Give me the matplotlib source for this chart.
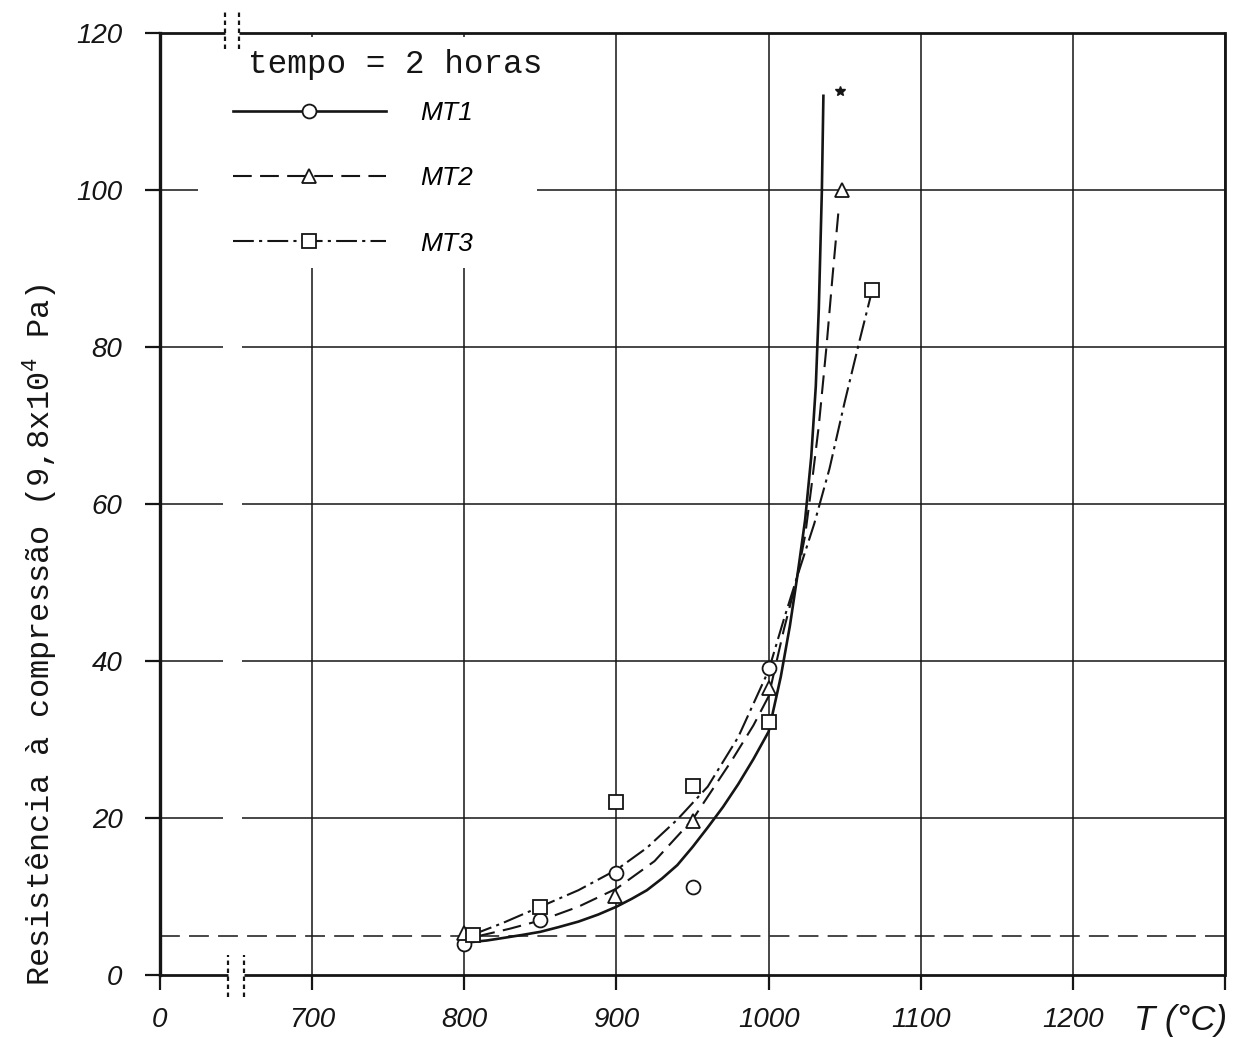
"""
Compressive strength vs. firing temperature (tempo = 2 horas) for MT1, MT2
and MT3, redrawn from a scanned figure. Broken x axis: the "0" tick sits
where 600 would be.
"""
import matplotlib
matplotlib.use("Agg")
import matplotlib.pyplot as plt
from matplotlib.font_manager import FontProperties
from matplotlib.lines import Line2D
from matplotlib.patches import Rectangle

plt.rcParams["font.family"] = ["Liberation Sans", "DejaVu Sans"]
plt.rcParams["mathtext.fontset"] = "custom"
plt.rcParams["mathtext.rm"] = "Liberation Mono"

INK = "#151515"

# measured points
T_MT1 = [800, 850, 900, 950, 1000]
R_MT1 = [4.0, 7.0, 13.0, 11.2, 39.1]
T_MT2 = [800, 899, 950, 1000, 1048]
R_MT2 = [5.3, 10.0, 19.6, 36.5, 100.0]
T_MT3 = [806, 850, 900, 950, 1000, 1068]
R_MT3 = [5.1, 8.7, 22.0, 24.1, 32.2, 87.2]
STAR_T = [1047]
STAR_R = [112.6]

# hand-drawn fitted curves
CURVE1_T = [805, 815, 825, 838, 850, 862, 875, 888, 900, 910, 920, 930, 940,
            950, 960, 970, 980, 990, 1000, 1008, 1014, 1019, 1024, 1028, 1031,
            1033, 1035, 1036]
CURVE1_R = [4.2, 4.4, 4.7, 5.1, 5.5, 6.1, 6.8, 7.7, 8.7, 9.7, 10.8, 12.3, 14.0,
            16.3, 18.8, 21.4, 24.3, 27.5, 31.0, 38.0, 44.5, 51.0, 58.0, 66.0,
            75.0, 85.0, 100.0, 112.0]
CURVE2_T = [808, 830, 851, 875, 900, 925, 950, 976, 990, 1000, 1010, 1018,
            1024, 1028, 1033, 1038, 1042, 1046]
CURVE2_R = [4.9, 5.9, 7.0, 8.7, 11.0, 14.5, 19.8, 27.4, 31.8, 35.5, 44.0, 50.0,
            56.0, 62.0, 70.0, 80.0, 89.0, 97.5]
CURVE3_T = [805, 825, 850, 875, 900, 920, 940, 960, 980, 1000, 1010, 1020,
            1030, 1040, 1050, 1060, 1068]
CURVE3_R = [5.1, 6.6, 8.7, 10.8, 13.4, 16.2, 19.8, 24.0, 30.3, 38.8, 45.3, 51.5,
            57.5, 64.5, 73.0, 81.0, 87.2]

LIMIT_R = 5.0
GRID_R = [20, 40, 60, 80, 100]
X_TICKS = [600, 700, 800, 900, 1000, 1100, 1200, 1300]
X_LABELS = ["0", "700", "800", "900", "1000", "1100", "1200", ""]
Y_TICKS = [0, 20, 40, 60, 80, 100, 120]
LABELS = ["MT1", "MT2", "MT3"]

DASH2 = (0, (9, 4))
DASH3 = (0, (10, 2.5, 1.5, 2.5))

fig = plt.figure(figsize=(12.4, 10.38), dpi=100)
ax = fig.add_axes([0.129, 0.0607, 0.859, 0.9075])
ax.set_xlim(600, 1300)
ax.set_ylim(0, 120)
ax.set_axisbelow(True)

# grid: vertical through the axis, horizontal broken at the axis break
ax.set_xticks(X_TICKS)
ax.set_xticklabels(X_LABELS)
ax.set_yticks(Y_TICKS)
ax.grid(axis="x", color=INK, linewidth=1.1)
ax.hlines(GRID_R, 600, 641.5, color=INK, linewidth=1.1, zorder=1)
ax.hlines(GRID_R, 654, 1300, color=INK, linewidth=1.1, zorder=1)
ax.axhline(LIMIT_R, color=INK, linewidth=1.1, linestyle=(0, (13, 6)), zorder=1)

# white patch behind the legend (grid is blank there)
ax.add_patch(Rectangle((0.036, 0.7505), 0.318, 0.245, transform=ax.transAxes,
                       facecolor="white", edgecolor="none", zorder=1.5))

ax.plot(CURVE1_T, CURVE1_R, color=INK, linewidth=1.9, zorder=3)
ax.plot(CURVE2_T, CURVE2_R, color=INK, linewidth=1.5, linestyle=DASH2, zorder=3)
ax.plot(CURVE3_T, CURVE3_R, color=INK, linewidth=1.5, linestyle=DASH3, zorder=3)

mk = dict(linestyle="none", markersize=10, markerfacecolor="white",
          markeredgecolor=INK, markeredgewidth=1.3, zorder=4, clip_on=False)
ax.plot(T_MT1, R_MT1, marker="o", **mk)
ax.plot(T_MT2, R_MT2, marker="^", **mk)
ax.plot(T_MT3, R_MT3, marker="s", **mk)
ax.plot(STAR_T, STAR_R, marker="*", linestyle="none", color=INK, markersize=7,
        zorder=4)

# spines: top and bottom drawn by hand with the break gap
for side in ["top", "bottom"]:
    ax.spines[side].set_visible(False)
for side in ["left", "right"]:
    ax.spines[side].set_color(INK)
ax.spines["left"].set_linewidth(2.4)
ax.spines["right"].set_linewidth(2.0)
line_kw = dict(color=INK, linewidth=2.0, clip_on=False, solid_capstyle="butt",
               zorder=5)
ax.plot([600, 643], [120, 120], **line_kw)
ax.plot([652, 1300], [120, 120], **line_kw)
ax.plot([600, 645], [0, 0], **line_kw)
ax.plot([655, 1300], [0, 0], **line_kw)
brk = dict(color=INK, linewidth=1.6, linestyle=(0, (2, 1.6)), clip_on=False,
           zorder=5)
for xb in [642.8, 652.0]:
    ax.plot([xb, xb], [118.0, 122.7], **brk)
for xb in [644.7, 655.3]:
    ax.plot([xb, xb], [-2.8, 2.6], **brk)

ax.tick_params(direction="out", length=11, width=1.6, colors=INK, labelsize=20)
ax.tick_params(axis="x", pad=12)
ax.tick_params(axis="y", pad=16)
for lab in ax.get_xticklabels() + ax.get_yticklabels():
    lab.set_fontstyle("italic")

ax.text(0.958, -0.048, "T (°C)", transform=ax.transAxes, ha="center",
        va="center", fontsize=25, fontstyle="italic", color=INK)
ax.text(-0.113, 0.361, "Resistência à compressão (9,8x10$^4$ Pa)",
        transform=ax.transAxes, rotation=90, ha="center", va="center",
        family=["Liberation Mono", "DejaVu Sans Mono"], fontsize=23, color=INK)

ax.text(0.0826, 0.967, "tempo = 2 horas", transform=ax.transAxes, ha="left",
        va="center", family=["Liberation Mono", "DejaVu Sans Mono"],
        fontsize=23.5, color=INK, zorder=6)

handle_kw = dict(color=INK, markersize=10, markerfacecolor="white",
                 markeredgecolor=INK, markeredgewidth=1.3)
handles = [
    Line2D([], [], linewidth=1.9, linestyle="-", marker="o", **handle_kw),
    Line2D([], [], linewidth=1.5, linestyle=DASH2, marker="^", **handle_kw),
    Line2D([], [], linewidth=1.5, linestyle=DASH3, marker="s", **handle_kw),
]
leg = ax.legend(handles, LABELS, loc="upper left", bbox_to_anchor=(0.0685, 0.928),
                frameon=False, handlelength=5.8, handletextpad=1.3,
                labelspacing=1.57, borderpad=0, borderaxespad=0,
                prop=FontProperties(family="Liberation Sans", style="italic",
                                    size=19))
leg.set_zorder(6)

fig.savefig("out.png", dpi=100)
plt.close(fig)
